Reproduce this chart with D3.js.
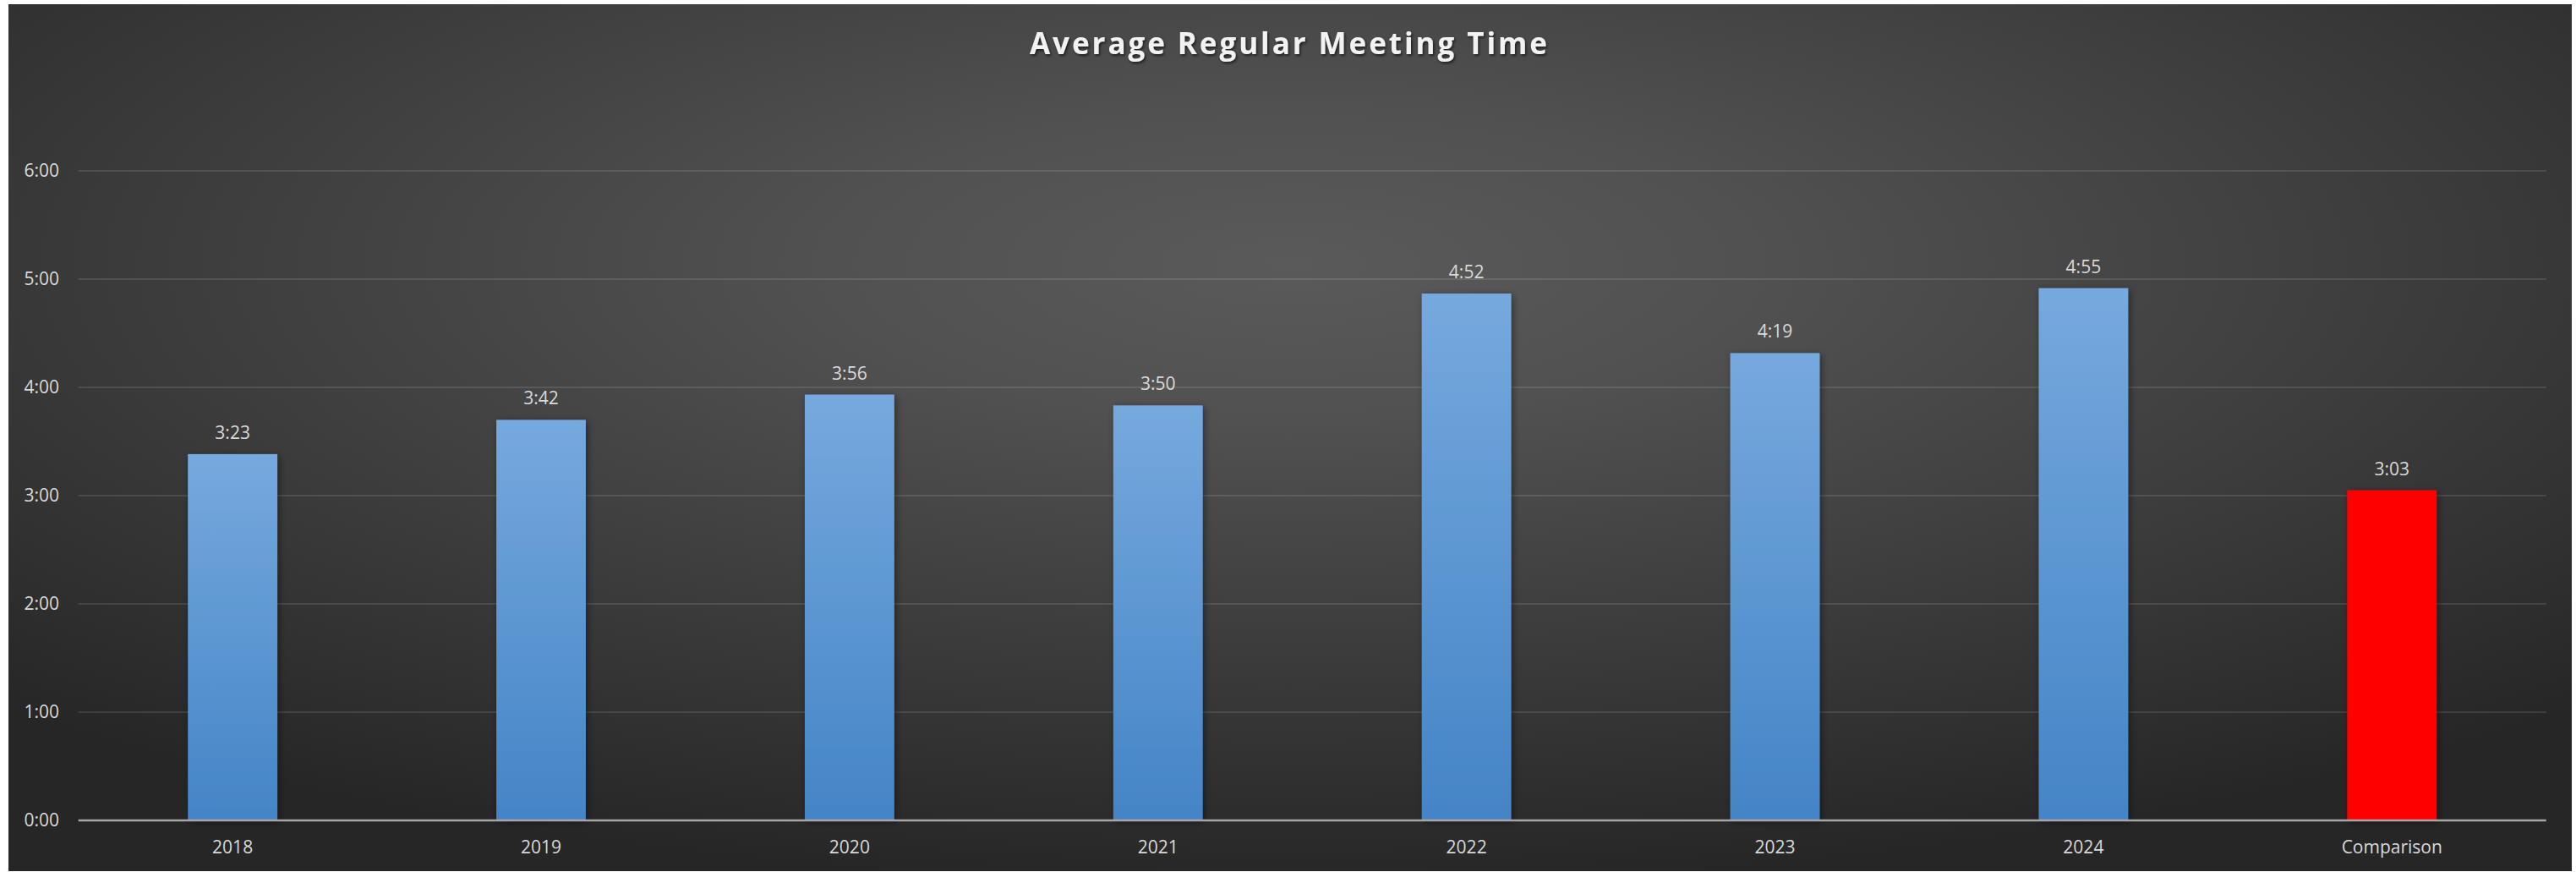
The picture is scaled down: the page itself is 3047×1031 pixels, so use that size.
<!DOCTYPE html>
<html>
<head>
<meta charset="utf-8">
<script src="https://cdn.jsdelivr.net/npm/d3@7"></script>
<style>
  body { margin: 0; background: #fff; }
  svg { display: block; }
  text { font-family: "Open Sans", "Noto Sans", sans-serif; }
</style>
</head>
<body>
<div id="chart"></div>
<script>
// chart data: average meeting length in minutes
var categories = ["2018", "2019", "2020", "2021", "2022", "2023", "2024", "Comparison"];
var minutes = [203, 222, 236, 230, 292, 259, 295, 183];
var yTicks = [0, 60, 120, 180, 240, 300, 360];

var W = 3047, H = 1031;
var frame = {x: 10, y: 5, w: 3032, h: 1025};
var plot = {left: 92.7, right: 3011.7, top: 202, bottom: 970};

function fmt(m) {
    var h = Math.floor(m / 60), mm = m % 60;
    return h + ":" + (mm < 10 ? "0" + mm : mm);
}

var svg = d3.select("#chart").append("svg")
    .attr("width", W)
    .attr("height", H);

var defs = svg.append("defs");

var bg = defs.append("radialGradient")
    .attr("id", "bg")
    .attr("cx", "50%").attr("cy", "30%").attr("r", "72%");
bg.append("stop").attr("offset", "0%").attr("stop-color", "#5a5a5a");
bg.append("stop").attr("offset", "25%").attr("stop-color", "#515151");
bg.append("stop").attr("offset", "100%").attr("stop-color", "#262626");

var barGrad = defs.append("linearGradient")
    .attr("id", "bar")
    .attr("x1", 0).attr("y1", 0).attr("x2", 0).attr("y2", 1);
barGrad.append("stop").attr("offset", "0%").attr("stop-color", "#76a9de");
barGrad.append("stop").attr("offset", "100%").attr("stop-color", "#4484c6");

var shadow = defs.append("filter")
    .attr("id", "shadow")
    .attr("x", "-30%").attr("y", "-30%").attr("width", "160%").attr("height", "160%");
shadow.append("feDropShadow")
    .attr("dx", 2).attr("dy", 2).attr("stdDeviation", 4)
    .attr("flood-color", "#000").attr("flood-opacity", 0.45);

var tshadow = defs.append("filter").attr("id", "tshadow");
tshadow.append("feDropShadow")
    .attr("dx", 1.5).attr("dy", 2).attr("stdDeviation", 1.5)
    .attr("flood-color", "#000").attr("flood-opacity", 0.6);

svg.append("rect")
    .attr("x", frame.x).attr("y", frame.y)
    .attr("width", frame.w).attr("height", frame.h)
    .attr("fill", "url(#bg)");

// title
svg.append("text")
    .attr("x", 1524)
    .attr("y", 64)
    .attr("text-anchor", "middle")
    .attr("font-size", 35)
    .attr("font-weight", "bold")
    .attr("fill", "#f2f2f2")
    .attr("textLength", 612)
    .attr("lengthAdjust", "spacing")
    .attr("filter", "url(#tshadow)")
    .text("Average Regular Meeting Time");

var x = d3.scaleBand()
    .domain(categories)
    .range([plot.left, plot.right])
    .paddingInner(0.71)
    .paddingOuter(0.355);

var y = d3.scaleLinear()
    .domain([0, 360])
    .range([plot.bottom, plot.top]);

// gridlines
svg.append("g")
    .selectAll("line")
    .data(yTicks.slice(1))
    .enter()
    .append("line")
    .attr("x1", plot.left).attr("x2", plot.right)
    .attr("y1", d => y(d)).attr("y2", d => y(d))
    .attr("stroke", "rgba(255,255,255,0.11)")
    .attr("stroke-width", 2);

// y labels
svg.append("g")
    .selectAll("text")
    .data(yTicks)
    .enter()
    .append("text")
    .attr("x", 70)
    .attr("y", d => y(d))
    .attr("dy", "0.35em")
    .attr("text-anchor", "end")
    .attr("font-size", 21)
    .attr("fill", "#d9d9d9")
    .text(fmt);

// bars
svg.append("g")
    .selectAll("rect")
    .data(minutes)
    .enter()
    .append("rect")
    .attr("x", (d, i) => x(categories[i]))
    .attr("y", d => y(d))
    .attr("width", x.bandwidth())
    .attr("height", d => y(0) - y(d))
    .attr("fill", (d, i) => categories[i] === "Comparison" ? "#ff0000" : "url(#bar)")
    .attr("filter", "url(#shadow)");

// value labels
svg.append("g")
    .selectAll("text")
    .data(minutes)
    .enter()
    .append("text")
    .attr("x", (d, i) => x(categories[i]) + x.bandwidth() / 2)
    .attr("y", d => y(d) - 18)
    .attr("text-anchor", "middle")
    .attr("font-size", 21)
    .attr("fill", "#d9d9d9")
    .text(fmt);

// x axis line
svg.append("line")
    .attr("x1", plot.left).attr("x2", plot.right)
    .attr("y1", y(0)).attr("y2", y(0))
    .attr("stroke", "#a6a6a6")
    .attr("stroke-width", 2.5);

// x labels
svg.append("g")
    .selectAll("text")
    .data(categories)
    .enter()
    .append("text")
    .attr("x", d => x(d) + x.bandwidth() / 2)
    .attr("y", 1009)
    .attr("text-anchor", "middle")
    .attr("font-size", 21)
    .attr("fill", "#d9d9d9")
    .text(d => d);
</script>
</body>
</html>
